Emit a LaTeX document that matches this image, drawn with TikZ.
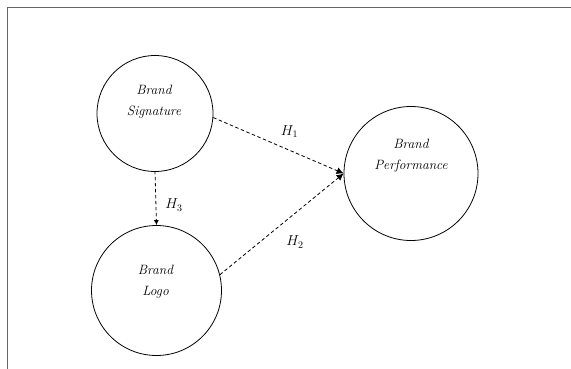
\documentclass[tikz,border=0pt]{standalone}
\usepackage{amsmath}
\usepackage{tikz}
\usetikzlibrary{arrows.meta}

\begin{document}
\begin{tikzpicture}[x=1pt, y=-1pt, every node/.style={font=\fontsize{13.5}{21}\selectfont\itshape}]
      \tikzset{latent/.style={draw, circle, line width=0.8pt, inner sep=0pt},
        hyp/.style={dashed, line width=0.8pt, dash pattern=on 3.5pt off 2.5pt, -{Latex[length=7pt, width=7pt]}},
        hlabel/.style={font=\fontsize{14.5}{16}\selectfont}}
      \useasboundingbox (0,0) rectangle (571,369);

      \coordinate (tr) at (571,7.5);
      \coordinate (tl) at (7.3,7.5);
      \coordinate (bl) at (7.3,369);
      \draw[black!60, line width=1.6pt] (tr) -- (tl) -- (bl);

      \node[latent, minimum size=116pt] (sig) at (155,113.5) {};
      \node[latent, minimum size=134pt] (perf) at (411,173.5) {};
      \node[latent, minimum size=130pt] (logo) at (156.5,290.5) {};

      \node[align=center] (sigtext) at (154,102) {Brand\\Signature};
      \node[align=center] (perftext) at (411,156) {Brand\\Performance};
      \node[align=center] (logotext) at (155.5,282) {Brand\\Logo};

      \draw[hyp] (sig.-4) -- (perf.west);
      \draw[hyp] (logo.14) -- (perf.west);
      \draw[hyp, -{Latex[length=5pt, width=5pt]}] ([yshift=1pt]sig.south) -- (logo.north);

      \node[hlabel] (h1) at (289.5,131.5) {$H_1$};
      \node[hlabel] (h2) at (295,242) {$H_2$};
      \node[hlabel] (h3) at (174,205) {$H_3$};
    \end{tikzpicture}
\end{document}
